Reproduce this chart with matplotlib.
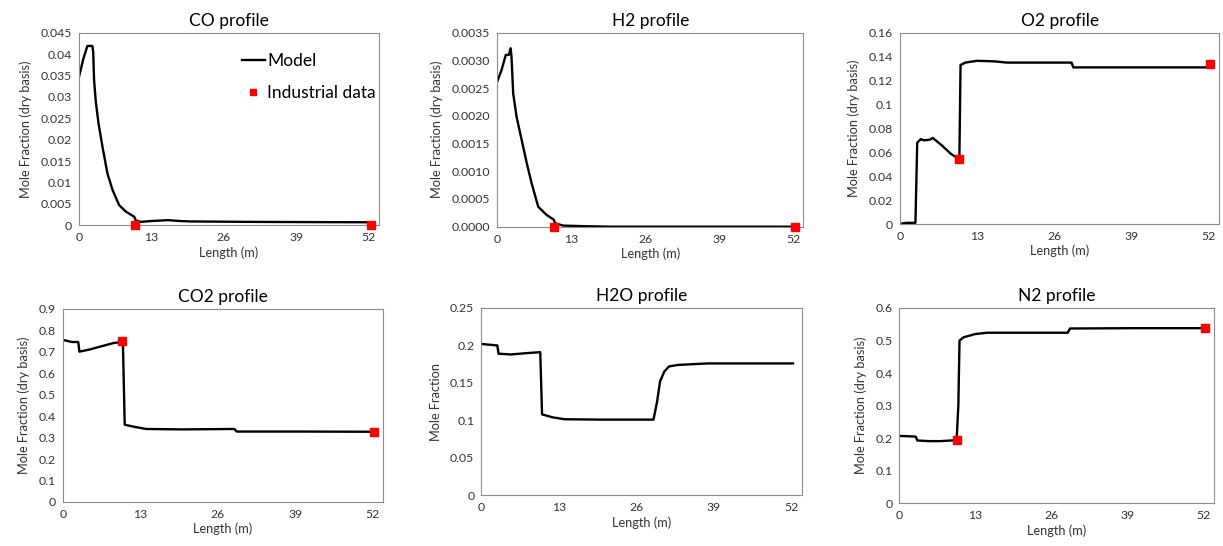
import matplotlib.pyplot as plt

plt.rcParams["font.family"] = ["Lato", "DejaVu Sans"]

x_ticks = [0, 13, 26, 39, 52]

# CO
co_x = [0, 0.8, 1.5, 2.4, 2.55, 2.7, 3.0, 3.5, 4.2, 5.1, 6.0, 7.2, 8.4, 9.9, 10.2, 11.1, 13, 16, 18, 20, 25, 30, 40, 52.3]
co_y = [0.0347, 0.039, 0.0419, 0.0419, 0.0405, 0.034, 0.029, 0.0238, 0.0184, 0.0121, 0.0083, 0.0047, 0.0032, 0.002, 0.0011, 0.0008, 0.001, 0.0012, 0.001, 0.0009, 0.00085, 0.0008, 0.00075, 0.0007]
co_data_x = [10.0, 52.3]
co_data_y = [0.0, 0.0]

# H2
h2_x = [0, 0.76, 1.5, 2.05, 2.35, 2.5, 2.8, 3.4, 4.3, 5.2, 6.05, 7.2, 8.7, 9.9, 10.2, 11.6, 15, 20, 52.3]
h2_y = [0.00262, 0.00283, 0.0031, 0.0031, 0.00322, 0.00307, 0.0024, 0.00198, 0.00156, 0.00114, 0.00078, 0.00036, 0.00021, 0.00013, 0.00006, 0.00002, 0.00001, 0.0, 0.0]
h2_data_x = [9.9, 52.3]
h2_data_y = [0.0, 0.0]

# O2
o2_x = [0, 1.0, 2.6, 2.9, 3.5, 4.0, 5.0, 5.5, 7.0, 8.5, 10.0, 10.2, 11, 13, 16, 18, 28.9, 29.2, 40, 52.3]
o2_y = [0.0, 0.001, 0.001, 0.068, 0.071, 0.070, 0.0705, 0.072, 0.066, 0.059, 0.054, 0.133, 0.135, 0.1365, 0.136, 0.135, 0.135, 0.131, 0.131, 0.131]
o2_data_x = [9.95, 52.2]
o2_data_y = [0.054, 0.134]

# CO2
co2_x = [0, 1.5, 2.6, 2.8, 4.5, 6.5, 8.5, 9.9, 10.1, 10.4, 12, 14, 20, 28.8, 29.2, 40, 52.3]
co2_y = [0.755, 0.745, 0.745, 0.70, 0.71, 0.725, 0.74, 0.745, 0.74, 0.36, 0.35, 0.34, 0.338, 0.34, 0.328, 0.328, 0.327]
co2_data_x = [10.0, 52.2]
co2_data_y = [0.75, 0.327]

# H2O
h2o_x = [0, 2.7, 2.9, 5, 8, 9.9, 10.2, 12, 14, 20, 28.9, 29.5, 30, 30.7, 31.5, 33, 38, 52.3]
h2o_y = [0.202, 0.2, 0.189, 0.188, 0.19, 0.191, 0.108, 0.104, 0.1015, 0.101, 0.101, 0.125, 0.152, 0.165, 0.172, 0.174, 0.176, 0.176]

# N2
n2_x = [0, 2.8, 3.1, 5, 7, 9.8, 10.1, 10.3, 11, 13, 15, 28.8, 29.2, 40, 52.3]
n2_y = [0.207, 0.205, 0.193, 0.191, 0.191, 0.194, 0.30, 0.50, 0.51, 0.52, 0.524, 0.524, 0.537, 0.538, 0.538]
n2_data_x = [9.85, 52.2]
n2_data_y = [0.195, 0.538]

panels = [
    ("CO profile", co_x, co_y, co_data_x, co_data_y, 0.045, 0.005, "{:g}", "Mole Fraction (dry basis)",
     [0.0646, 0.5874, 0.2453, 0.3527]),
    ("H2 profile", h2_x, h2_y, h2_data_x, h2_data_y, 0.0035, 0.0005, "{:.4f}", "Mole Fraction (dry basis)",
     [0.4066, 0.5848, 0.2502, 0.3553]),
    ("O2 profile", o2_x, o2_y, o2_data_x, o2_data_y, 0.16, 0.02, "{:g}", "Mole Fraction (dry basis)",
     [0.7359, 0.5897, 0.2611, 0.3504]),
    ("CO2 profile", co2_x, co2_y, co2_data_x, co2_data_y, 0.9, 0.1, "{:g}", "Mole Fraction (dry basis)",
     [0.0513, 0.0806, 0.2621, 0.3540]),
    ("H2O profile", h2o_x, h2o_y, None, None, 0.25, 0.05, "{:g}", "Mole Fraction",
     [0.3935, 0.0929, 0.2622, 0.3430]),
    ("N2 profile", n2_x, n2_y, n2_data_x, n2_data_y, 0.6, 0.1, "{:g}", "Mole Fraction (dry basis)",
     [0.7353, 0.0782, 0.2573, 0.3577]),
]

fig = plt.figure(figsize=(12.23, 5.46), dpi=100)

for i, (title, x, y, dx, dy, ymax, ystep, fmt, ylabel, rect) in enumerate(panels):
    ax = fig.add_axes(rect)
    ax.plot(x, y, color="black", lw=1.7, label="Model", zorder=2)
    if dx is not None:
        ax.plot(dx, dy, "s", color="red", markersize=5.5, label="Industrial data",
                zorder=3, clip_on=False)
    ax.set_xlim(0, 53.8)
    ax.set_ylim(0, ymax)
    ax.set_xticks(x_ticks)
    nt = int(round(ymax / ystep))
    yt = [k * ystep for k in range(nt + 1)]
    ax.set_yticks(yt)
    ax.set_yticklabels(["0" if (v == 0 and fmt == "{:g}") else fmt.format(v) for v in yt])
    ax.tick_params(length=0, labelsize=8.8, colors="#333333", pad=5)
    for s in ax.spines.values():
        s.set_color("#8c8c8c")
        s.set_linewidth(0.8)
    ax.set_title(title, fontsize=12.5, pad=5)
    ax.set_xlabel("Length (m)", fontsize=9.2, color="#333333", labelpad=2)
    ax.set_ylabel(ylabel, fontsize=9.2, color="#333333", labelpad=6)
    if i == 0:
        ax.legend(loc="upper left", bbox_to_anchor=(0.52, 0.93), frameon=False,
                  fontsize=12.5, handlelength=1.3, handletextpad=0.15,
                  labelspacing=0.9, markerscale=0.75, borderaxespad=0)

fig.savefig("out.png", dpi=100)
